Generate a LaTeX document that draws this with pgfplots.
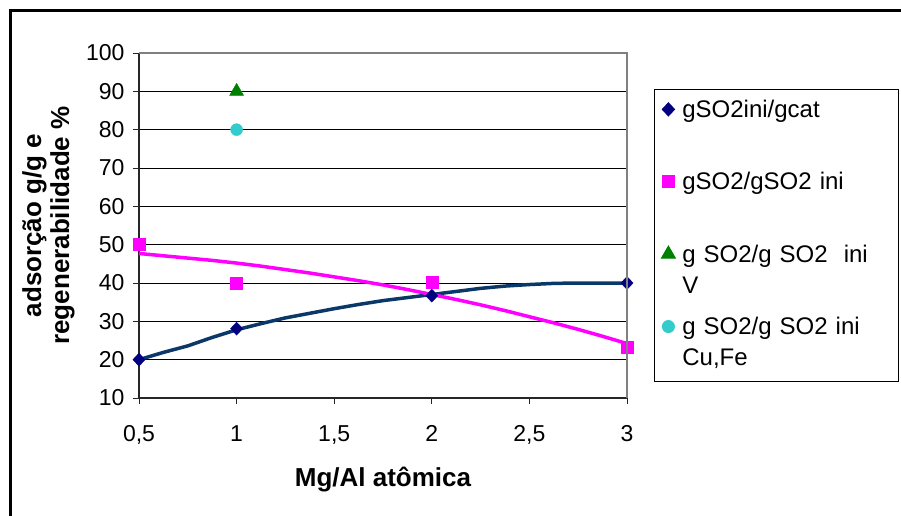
\documentclass[border=0pt]{standalone}
\usepackage{pgfplots}
\pgfplotsset{compat=1.18}
\usepackage{fontspec}
\setmainfont{Liberation Sans}
\definecolor{navym}{HTML}{000080}
\definecolor{navyl}{HTML}{0A3868}
\definecolor{mag}{HTML}{FF00FF}
\definecolor{grn}{HTML}{008000}
\definecolor{turq}{HTML}{33CCCC}
\newcommand{\sa}{\rule[-36pt]{0pt}{53pt}}
\newcommand{\fa}{\rule{0pt}{17pt}}
\newcommand{\la}{\rule[-5pt]{0pt}{5pt}}
\begin{document}
\begin{tikzpicture}
\draw[line width=3pt] (10pt,-516pt) -- (10pt,-11pt) -- (901pt,-11pt);
\begin{axis}[
  at={(139pt,-398pt)}, anchor=south west,
  scale only axis, width=488pt, height=345pt,
  xmin=0.5, xmax=3, ymin=10, ymax=100,
  clip=false,
  xtick={0.5,1,1.5,2,2.5,3},
  xticklabels={{0,5},1,{1,5},2,{2,5},3},
  ytick={10,20,...,100},
  axis x line*=bottom, axis y line*=left,
  axis line style={line width=1.2pt, draw=black!85, -},
  tick align=outside, major tick length=6pt,
  tick style={black!85, line width=1pt},
  ymajorgrids, grid style={black, line width=1pt},
  ticklabel style={font=\fontsize{23}{26}\selectfont},
  /pgf/number format/assume math mode=true,
  xticklabel style={yshift=-18pt},
  yticklabel style={xshift=-5pt},
  xlabel={Mg/Al atômica},
  ylabel={adsorção g/g e\\regenerabilidade \%},
  every axis x label/.style={at={(axis description cs:0.5,-0.2377)}, anchor=center, font=\bfseries\fontsize{26}{27}\selectfont},
  every axis y label/.style={at={(axis description cs:-0.1855,0.5)}, anchor=center, rotate=90, align=center, font=\bfseries\fontsize{26}{28}\selectfont},
  legend cell align=left,
  legend image code/.code={\draw[mark repeat=2,mark phase=2,#1] plot coordinates {(0pt,8pt) (8pt,8pt) (16pt,8pt)};},
  legend style={at={(1.0553,0.8957)}, anchor=north west, draw=black, line width=1pt,
    inner xsep=7pt, inner ysep=10.5pt, row sep=19pt, column sep=7pt,
    font=\fontsize{24}{31}\selectfont,
    cells={anchor=base west},
    nodes={inner sep=0pt, text depth=, text height=, text width=209pt, align=left}},
  after end axis/.code={\draw[gray, line width=1.2pt] (rel axis cs:0,1) -- (rel axis cs:1,1) -- (rel axis cs:1,0);},
]
\addplot[navyl, line width=3.5pt, forget plot] coordinates {
 (0.5,20.0) (0.625,21.9) (0.75,23.6) (0.875,25.8) (1.0,27.8) (1.125,29.4) (1.25,30.9)
 (1.375,32.1) (1.5,33.3) (1.625,34.4) (1.75,35.4) (1.875,36.2) (2.0,37.0) (2.125,37.8)
 (2.25,38.6) (2.375,39.2) (2.5,39.6) (2.625,39.9) (2.75,40.0) (2.875,40.0) (3.0,40.0)};
\addplot[mag, line width=3.5pt, forget plot] coordinates {
 (0.5,47.7) (0.625,47.1) (0.75,46.5) (0.875,45.9) (1.0,45.2) (1.125,44.4) (1.25,43.5)
 (1.375,42.6) (1.5,41.6) (1.625,40.6) (1.75,39.5) (1.875,38.3) (2.0,37.0) (2.125,35.7)
 (2.25,34.3) (2.375,32.8) (2.5,31.2) (2.625,29.6) (2.75,27.9) (2.875,26.1) (3.0,24.2)};
\addplot[only marks, mark=diamond*, mark size=6.5pt, mark options={xscale=1.25}, color=navym] coordinates {(0.5,20) (1,28.1) (2,36.7) (3,40)};
\addlegendentry{\sa gSO2ini/gcat}
\addplot[only marks, mark=square*, mark size=6pt, color=mag] coordinates {(0.5,50) (1,40) (2,40.2) (3,23.3)};
\addlegendentry{\sa gSO2/gSO2 ini}
\addplot[only marks, mark=triangle*, mark size=8pt, color=grn] coordinates {(1,90)};
\addlegendentry{\fa g SO2/g SO2~ ini\\\la V}
\addplot[only marks, mark=*, mark size=6pt, color=turq] coordinates {(1,80)};
\addlegendentry{\fa g SO2/g SO2 ini\\\la Cu,Fe}
\end{axis}
\pgfresetboundingbox
\path[use as bounding box] (0pt,0pt) rectangle (901pt,-516pt);
\end{tikzpicture}
\end{document}
